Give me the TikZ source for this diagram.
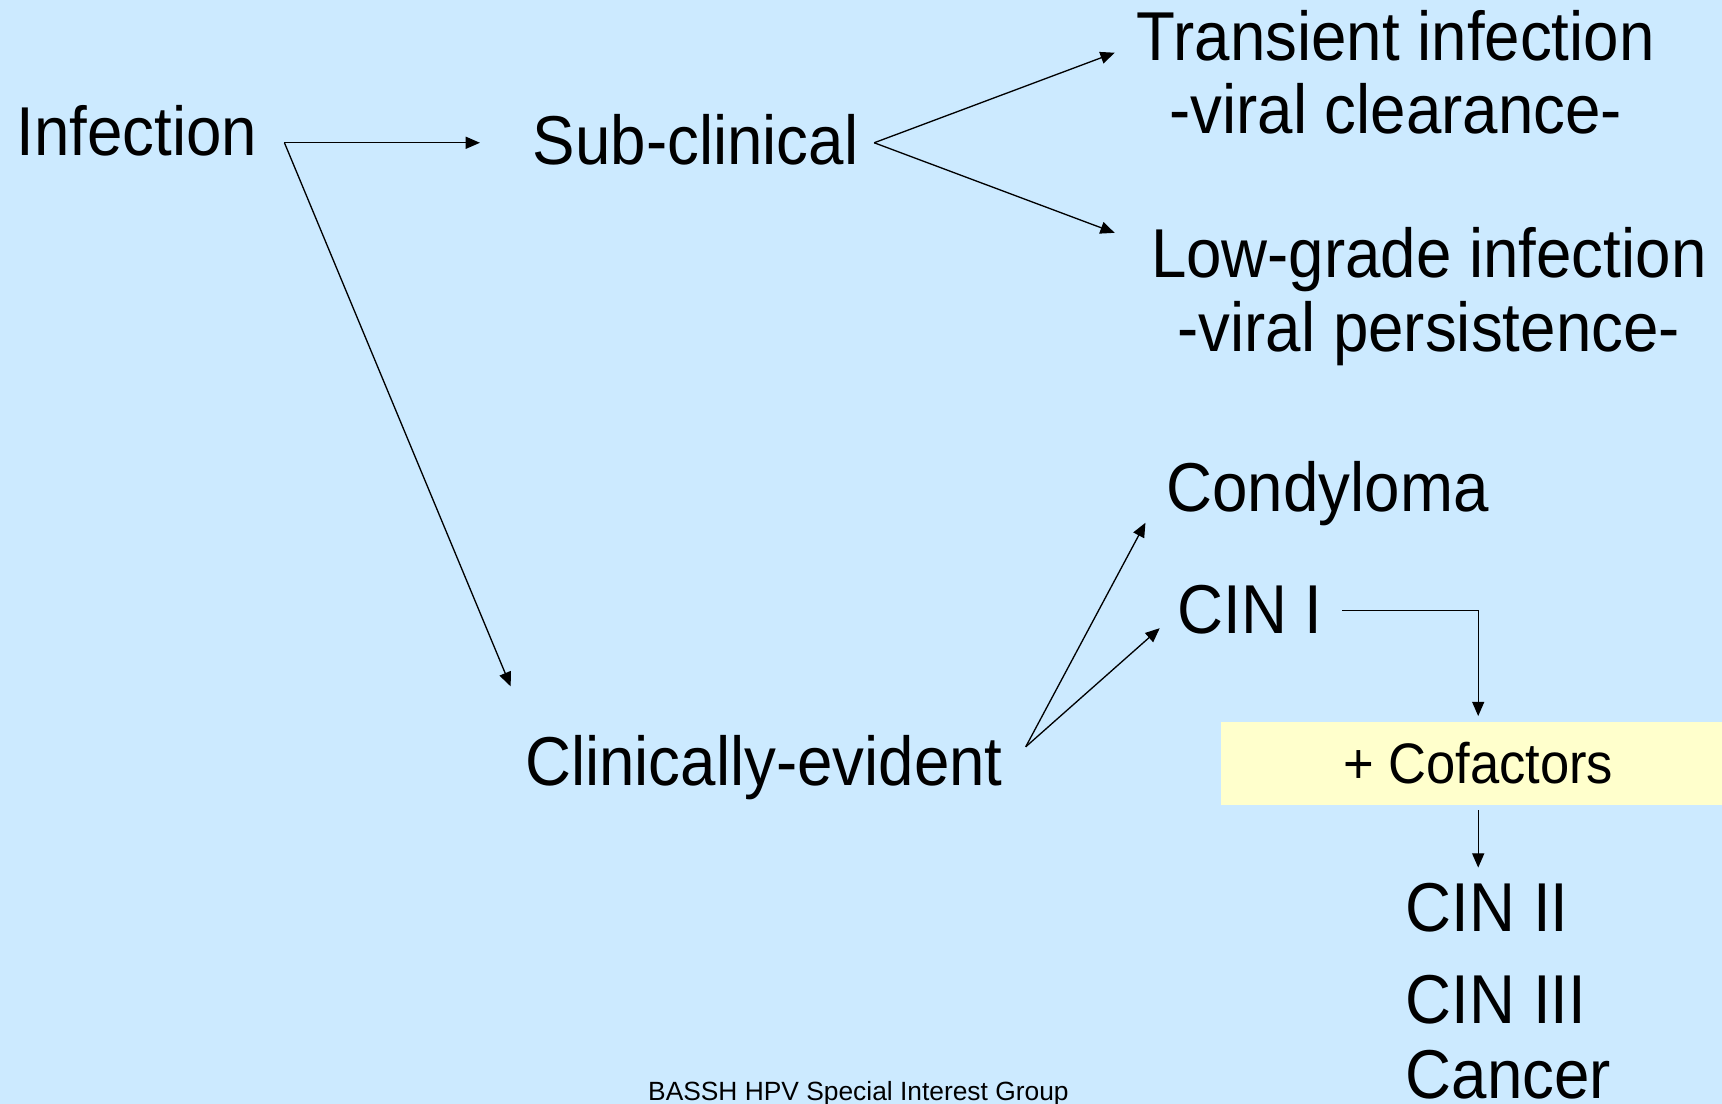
\documentclass[tikz,border=0pt]{standalone}
\usepackage{fontspec}
\setmainfont{Liberation Sans}
\usetikzlibrary{arrows.meta}
\definecolor{bgblue}{HTML}{CCEAFF}
\definecolor{boxyellow}{HTML}{FFFFCC}
\newcommand{\tx}[1]{\scalebox{0.92}[1]{#1}}
\begin{document}
\begin{tikzpicture}[x=1pt,y=-1pt,
  lbl/.style={font=\fontsize{63}{70}\selectfont, inner sep=0pt, anchor=base west},
  lblc/.style={font=\fontsize{63}{70}\selectfont, inner sep=0pt, anchor=base},
  arr/.style={-{Triangle[length=13pt,width=11pt]}, line width=1.2pt},
  ln/.style={line width=1.2pt}]
\fill[bgblue] (0,0) rectangle (1568,1005);
\useasboundingbox (0,0) rectangle (1568,1005);

% nodes
\node[lbl] (inf) at (15,142) {\tx{Infection}};
\node[lbl] (sub) at (485,150) {\tx{Sub-clinical}};
\node[lblc] (trans) at (1271,55) {\tx{Transient infection}};
\node[lblc] (clear) at (1271,122) {\tx{-viral clearance-}};
\node[lblc] (low) at (1301,253) {\tx{Low-grade infection}};
\node[lblc] (pers) at (1301,320) {\tx{-viral persistence-}};
\node[lbl] (condy) at (1062,466) {\tx{Condyloma}};
\node[lbl] (cin1) at (1072,577) {\tx{CIN I}};
\node[fill=boxyellow, minimum width=456pt, minimum height=76pt, inner sep=0pt,
      font=\fontsize{52}{60}\selectfont] (cof) at (1340,695) {\hspace*{12pt}\tx{+ Cofactors}};
\node[lbl] (cin2) at (1280,848) {\tx{CIN II}};
\node[lbl] (cin3) at (1280,932) {\tx{CIN III}};
\node[lbl] (cancer) at (1280,1000) {\tx{Cancer}};
\node[lbl] (clin) at (478,715) {\tx{Clinically-evident}};
\node[inner sep=0pt, anchor=base west, font=\fontsize{24}{27}\selectfont] (foot) at (590,1002) {BASSH HPV Special Interest Group};

% connector ends
\coordinate (infOut) at (259,130);
\coordinate (subIn) at (437,130);
\coordinate (clinIn) at (465,625);
\coordinate (subOut) at (796,130);
\coordinate (transIn) at (1015,48);
\coordinate (lowIn) at (1015,212);
\coordinate (clinOut) at (934,680);
\coordinate (condyIn) at (1043,476);
\coordinate (cin1In) at (1056,572);
\coordinate (cin1Out) at (1222,556);
\coordinate (cofIn) at (1346,652);
\coordinate (cofOut) at (1346,738);
\coordinate (cin2In) at (1346,790);

\draw[arr] (infOut) -- (subIn);
\draw[arr] (infOut) -- (clinIn);
\draw[arr] (subOut) -- (transIn);
\draw[arr] (subOut) -- (lowIn);
\draw[arr] (clinOut) -- (condyIn);
\draw[arr] (clinOut) -- (cin1In);
\draw[arr] (cin1Out) -| (cofIn);
\draw[arr] (cofOut) -- (cin2In);
\end{tikzpicture}
\end{document}
